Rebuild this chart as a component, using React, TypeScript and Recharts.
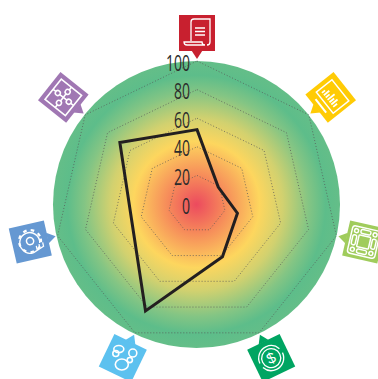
import React from "react";
import { RadarChart, Radar, PolarGrid, PolarAngleAxis, PolarRadiusAxis } from "recharts";

const categories = ["Document", "Analytics", "Network", "Finance", "Collaboration", "Engineering", "Puzzle"];
const values = [52, 19, 29, 41, 83, 47, 69];
const radiusTicks = [0, 20, 40, 60, 80, 100];
const iconColors = ["#c8202f", "#ffcb05", "#a0cc5c", "#00a562", "#5cc1ef", "#6598d2", "#a077b3"];
const contentTurn = [0, 51.4, 12.9, -25.7, 0, -12.9, 38.6];

const data = categories.map((name, i) => ({ name, value: values[i] }));

const W = { fill: "none", stroke: "#fff", strokeWidth: 1.3 } as const;

function Glyph({ i, bg }: { i: number; bg: string }) {
  if (i === 0)
    return (
      <g {...W}>
        <path d="M-6 8 V-11 Q-6 -14 -3 -14 H13 V9 Q13 12 10 12" />
        <path d="M-13 9 H5 Q5 12 8 12 H-10 Q-13 12 -13 9Z" />
        <path d="M-2 -5 H8 M-2 -1.5 H8 M-2 2 H8" strokeWidth={1.5} />
      </g>
    );
  if (i === 1)
    return (
      <g {...W}>
        <rect x={-13} y={-12} width={27} height={20} strokeWidth={1.5} />
        <path d="M-8 13 H9" strokeWidth={2} />
        <path d="M-9 4 V0 M-6 4 V-3 M-3 4 V-1 M0 4 V-5 M3 4 V-2 M6 4 V-4 M9 4 V-1" strokeWidth={1.8} />
      </g>
    );
  if (i === 2)
    return (
      <g {...W} strokeWidth={1.5}>
        <rect x={-14} y={-14} width={28} height={28} rx={3} />
        <rect x={-6} y={-6} width={12} height={12} rx={1} />
        <rect x={-5} y={-12} width={10} height={4} rx={1.5} />
        <rect x={-5} y={8} width={10} height={4} rx={1.5} />
        <rect x={-12} y={-5} width={4} height={10} rx={1.5} />
        <rect x={8} y={-5} width={4} height={10} rx={1.5} />
        <circle cx={-9.5} cy={-9.5} r={2} />
        <circle cx={9.5} cy={-9.5} r={2} />
        <circle cx={-9.5} cy={9.5} r={2} />
        <circle cx={9.5} cy={9.5} r={2} />
      </g>
    );
  if (i === 3)
    return (
      <g {...W}>
        <circle r={12.5} strokeDasharray="34 5" />
        <circle r={9.5} />
        <text y={5} textAnchor="middle" fontSize={15} fontFamily="Liberation Sans" fill="#fff" stroke="none">$</text>
      </g>
    );
  if (i === 4)
    return (
      <g {...W} strokeWidth={1.6}>
        <ellipse cx={-4} cy={-9} rx={5} ry={3.5} />
        <circle cx={-7} cy={-4.5} r={3} />
        <circle cx={10} cy={-5} r={4} />
        <circle cx={7} cy={2} r={2.6} />
        <ellipse cx={-1} cy={6.5} rx={6.5} ry={5.5} />
      </g>
    );
  if (i === 5)
    return (
      <g {...W}>
        <circle cx={0} cy={-1} r={3.6} strokeWidth={1.5} />
        <path d="M-9 6 A10 10 0 1 1 9 3" strokeWidth={1.4} />
        <circle cx={0} cy={-1} r={11} strokeWidth={2.2} strokeDasharray="3.6 4.2" />
        <path d="M-9 6 Q-6 12 1 11 L12 7 V3 M8 9 V4 M5 9.5 V5" />
      </g>
    );
  return (
    <g {...W}>
      <rect x={-13} y={-13} width={26} height={26} strokeWidth={1.6} />
      <path d="M0 -13 V-9.5 M0 -4.5 V4.5 M0 9.5 V13 M-13 0 H-9.5 M-4.5 0 H4.5 M9.5 0 H13" strokeWidth={1.6} />
      <circle cx={0} cy={-7} r={2.5} strokeWidth={1.5} />
      <circle cx={0} cy={7} r={2.5} strokeWidth={1.5} />
      <circle cx={-7} cy={0} r={2.5} strokeWidth={1.5} />
      <circle cx={7} cy={0} r={2.5} strokeWidth={1.5} />
    </g>
  );
}

function IconTick(props: any) {
  const { x, y, index } = props;
  const angle = (index * 360) / categories.length;
  const color = iconColors[index];
  return (
    <g transform={`translate(${x},${y}) rotate(${angle})`}>
      <rect x={-18} y={-38} width={36} height={36} fill={color} />
      <path d="M-5.5 -2.5 L5.5 -2.5 L0 6 Z" fill={color} />
      <g transform={`translate(0,-20) rotate(${contentTurn[index] - angle})`}>
        <Glyph i={index} bg={color} />
      </g>
    </g>
  );
}

function RadiusTick(props: any) {
  const { x, y, payload } = props;
  return (
    <text
      transform={`translate(${x - 7},${y + 9.5}) scale(0.72,1.15)`}
      textAnchor="end"
      fontFamily="'Open Sans', 'Liberation Sans'"
      fontSize={19.5}
      fontWeight={500}
      fill="#2b2b2b"
    >
      {payload.value}
    </text>
  );
}

export default function App() {
  return (
    <div style={{ position: "absolute", left: 0, top: 0, width: 378, height: 379, background: "#fff" }}>
      <div
        style={{
          position: "absolute",
          left: 53,
          top: 60.5,
          width: 287,
          height: 287,
          borderRadius: "50%",
          background:
            "radial-gradient(circle closest-side, #ec4a5e 0%, #f68a5a 20%, #fdd65e 44%, #d2d16f 60%, #84c584 78%, #5dbd8a 90%, #64be88 100%)",
        }}
      />
      <div style={{ position: "absolute", left: 0, top: 0 }}>
        <RadarChart width={378} height={379} cx={197} cy={204} outerRadius={143} data={data} startAngle={90} endAngle={-270}
          margin={{ top: 0, right: 0, bottom: 0, left: 0 }}>
          <PolarGrid gridType="polygon" radialLines={false} stroke="#555" strokeOpacity={0.75} strokeWidth={1} strokeDasharray="1 2" />
          <PolarAngleAxis dataKey="name" tick={IconTick} axisLine={false} tickLine={false} />
          <PolarRadiusAxis angle={90} domain={[0, 100]} ticks={radiusTicks as any} tickCount={6} axisLine={false} tickLine={false} tick={RadiusTick} />
          <Radar dataKey="value" fill="none" stroke="#231f20" strokeWidth={3} dot={false} isAnimationActive={false} />
        </RadarChart>
      </div>
    </div>
  );
}
